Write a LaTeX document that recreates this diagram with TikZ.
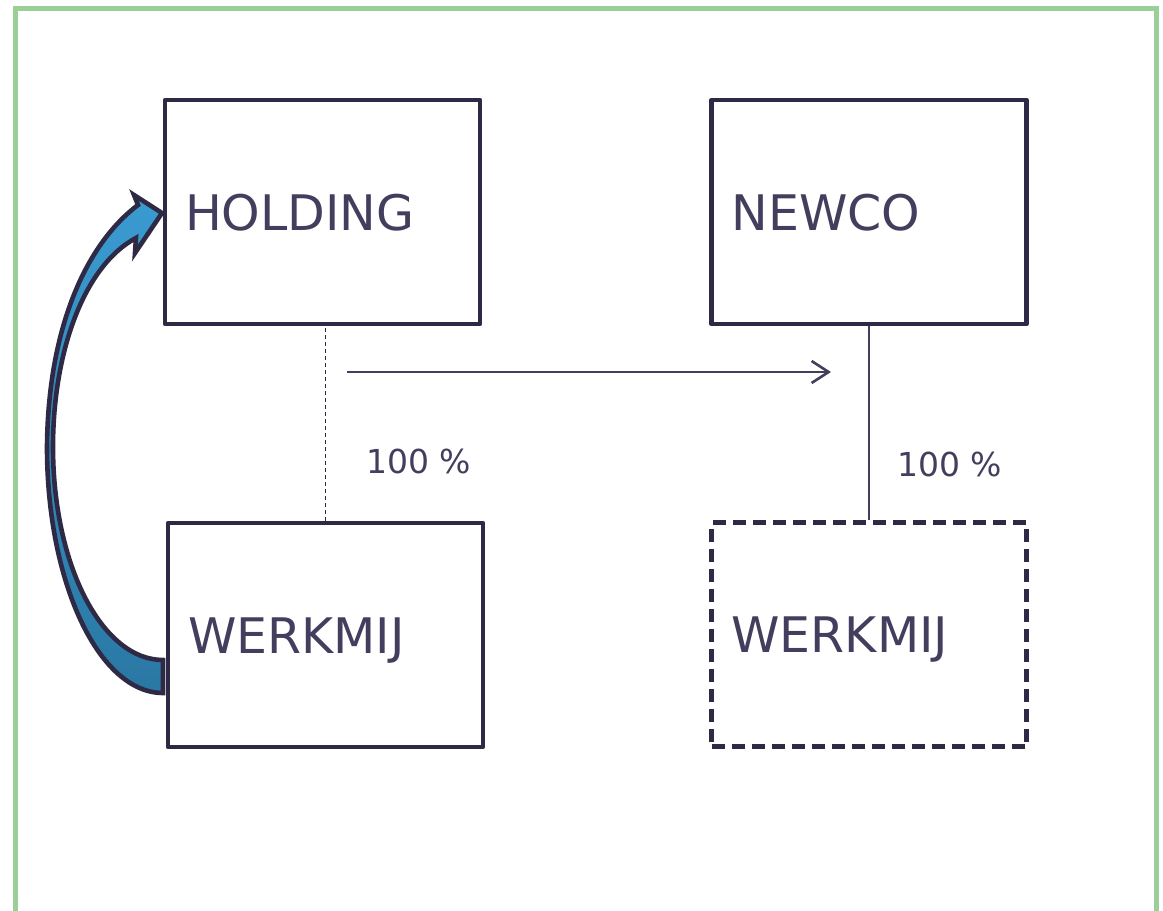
\documentclass[tikz,border=0pt]{standalone}
\usepackage{fontspec}
\setmainfont{DejaVu Sans}
\usetikzlibrary{arrows.meta}
\definecolor{ink}{HTML}{2E2A45}
\definecolor{txt}{HTML}{443E5E}
\definecolor{frame}{HTML}{9BCF98}
\definecolor{arrtop}{HTML}{3A9BD1}
\definecolor{arrbot}{HTML}{2A78A4}
\begin{document}
\begin{tikzpicture}[x=1pt,y=-1pt,
  entity/.style={draw=ink,line width=4.6pt,line join=round,
    minimum width=315pt,minimum height=224pt,inner xsep=20pt,inner ysep=0pt,
    text width=275pt,align=left,text=txt,text height=36pt,text depth=0pt,
    font=\fontsize{49pt}{59pt}\selectfont},
  planned/.style={entity,dash pattern=on 13pt off 7pt},
  pct/.style={text=txt,font=\fontsize{33pt}{39pt}\selectfont,inner sep=0pt},
  flow/.style={draw=txt,line width=2.6pt,-{Straight Barb[length=17pt,width=22pt,line width=2.6pt]}},
  own/.style={draw=txt,line width=1.4pt},
  owndash/.style={draw=ink,line width=1.2pt,dash pattern=on 4pt off 3pt},
  blockarrow/.style={draw=ink,line width=4.6pt,line join=miter,top color=arrtop,bottom color=arrbot}
]
\useasboundingbox (0,0) rectangle (1163,911);
\clip (0,0) rectangle (1163,911);
\fill[white] (0,0) rectangle (1163,911);
\draw[frame,line width=5pt] (15,8.5) rectangle (1156.5,960);

% curved block arrow
\path[blockarrow]
 (163,693) .. controls (99,693) and (47,583) .. (47,447)
 .. controls (48,330) and (85,245) .. (138,205)
 -- (134,195) -- (162,213) -- (135,253) -- (136,238)
 .. controls (85,265) and (53,350) .. (53,447)
 .. controls (53,565) and (102,660) .. (163,660) -- cycle;

\node[entity] (hold) at (322.5,212) {HOLDING};
\node[entity] (newco) at (869,212) {NEWCO};
\node[entity] (wl) at (325.5,635) {WERKMIJ};
\node[planned] (wr) at (869,634.5) {WERKMIJ};

\draw[owndash] (wl.north) -- (wl.north |- hold.south);
\draw[own] (newco.south) -- (wr.north);

\coordinate (a1) at (347,372);
\coordinate (a2) at (831,372);
\draw[flow] (a1) -- (a2);

\node[pct,anchor=base west] (p1) at (366,473) {100 \%};
\node[pct,anchor=base west] (p2) at (897,476) {100 \%};
\end{tikzpicture}
\end{document}
